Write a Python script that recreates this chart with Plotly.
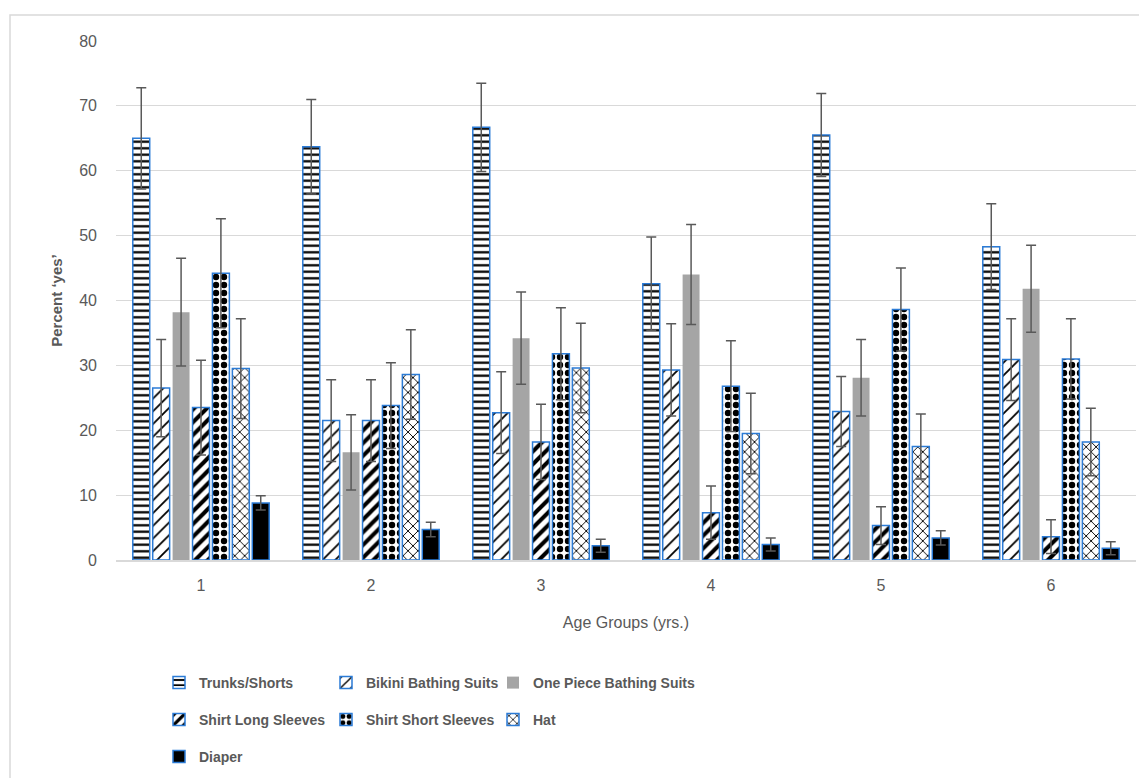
import plotly.graph_objects as go

groups = ["1", "2", "3", "4", "5", "6"]

series_names = ["Trunks/Shorts", "Bikini Bathing Suits", "One Piece Bathing Suits",
                "Shirt Long Sleeves", "Shirt Short Sleeves", "Hat", "Diaper"]

trunks = [65.0, 63.7, 66.7, 42.6, 65.5, 48.3]
trunks_err = [7.8, 7.3, 6.8, 7.2, 6.4, 6.6]
bikini = [26.5, 21.5, 22.7, 29.3, 22.9, 30.9]
bikini_err = [7.5, 6.3, 6.3, 7.1, 5.4, 6.3]
one_piece = [38.2, 16.6, 34.2, 44.0, 28.1, 41.8]
one_piece_err = [8.3, 5.8, 7.1, 7.7, 5.9, 6.7]
long_sleeves = [23.5, 21.5, 18.2, 7.3, 5.3, 3.6]
long_sleeves_err = [7.3, 6.3, 5.8, 4.1, 2.9, 2.6]
short_sleeves = [44.2, 23.8, 31.8, 26.8, 38.6, 31.0]
short_sleeves_err = [8.4, 6.6, 7.1, 7.0, 6.4, 6.2]
hat = [29.5, 28.6, 29.6, 19.5, 17.5, 18.2]
hat_err = [7.7, 6.9, 6.9, 6.2, 5.0, 5.2]
diaper = [8.8, 4.7, 2.2, 2.4, 3.4, 1.8]
diaper_err = [1.1, 1.1, 1.0, 1.0, 1.1, 1.0]

values = [trunks, bikini, one_piece, long_sleeves, short_sleeves, hat, diaper]
errors = [trunks_err, bikini_err, one_piece_err, long_sleeves_err,
          short_sleeves_err, hat_err, diaper_err]

BLUE = "#2b7bd6"
GRAY_TXT = "#595959"


def pat(shape, size, solidity):
    return dict(shape=shape, fgcolor="black", bgcolor="white", fgopacity=1,
                size=size, solidity=solidity, fillmode="replace")


styles = [
    dict(color="white", pattern=pat("-", 6.5, 0.35), line=BLUE),
    dict(color="white", pattern=pat("/", 9, 0.2), line=BLUE),
    dict(color="#a5a5a5", pattern=None, line=None),
    dict(color="white", pattern=pat("/", 9, 0.45), line=BLUE),
    dict(color="white", pattern=pat(".", 8, 0.5), line=BLUE),
    dict(color="white", pattern=pat("x", 7, 0.25), line=BLUE),
    dict(color="black", pattern=None, line=BLUE),
]

legend_of = ["legend", "legend", "legend", "legend2", "legend2", "legend2", "legend3"]
legend_w = [122, 122, 220, 122, 122, 220, 122]

fig = go.Figure()
for name, vals, errs, st, lg, lw in zip(series_names, values, errors, styles, legend_of, legend_w):
    marker = dict(color=st["color"])
    if st["pattern"] is not None:
        marker["pattern"] = st["pattern"]
    if st["line"] is not None:
        marker["line"] = dict(color=st["line"], width=1.5)
    else:
        marker["line"] = dict(width=0)
    fig.add_trace(go.Bar(
        x=groups, y=vals, name=name, marker=marker, legend=lg, legendwidth=lw,
        error_y=dict(type="data", array=errs, visible=True, color=GRAY_TXT,
                     thickness=1.5, width=5),
    ))

# page is drawn with an 8px body margin
OFF = 8
W, H = 1147 - OFF, 778 - OFF
L, R, T, B = 116 - OFF, 11, 41 - OFF, 218
pw, ph = W - L - R, H - T - B


def px_x(p):
    return (p - OFF - L) / pw


def px_y(p):
    return (H - B - (p - OFF)) / ph


leg_common = dict(orientation="h", xanchor="left", yanchor="middle",
                  entrywidth=122, entrywidthmode="pixels", itemwidth=30,
                  font=dict(family="Liberation Sans", size=14, color=GRAY_TXT, weight="bold"),
                  bgcolor="rgba(0,0,0,0)")

fig.update_layout(
    width=W, height=H,
    margin=dict(l=L, r=R, t=T, b=B, autoexpand=False),
    paper_bgcolor="white", plot_bgcolor="white",
    barmode="group", bargap=0.18, bargroupgap=0.15,
    font=dict(family="Liberation Sans", color=GRAY_TXT),
    legend=dict(x=px_x(159), y=px_y(683), **leg_common),
    legend2=dict(x=px_x(159), y=px_y(720), **leg_common),
    legend3=dict(x=px_x(159), y=px_y(757), **leg_common),
    xaxis=dict(
        type="category", showgrid=False, showline=True, linecolor="#d9d9d9", linewidth=1.5,
        ticks="", ticklabelstandoff=10,
        tickfont=dict(family="Liberation Sans", size=16, color=GRAY_TXT),
        title=dict(text="Age Groups (yrs.)", font=dict(family="Liberation Sans", size=16, color=GRAY_TXT), standoff=24),
    ),
    yaxis=dict(
        range=[0, 80], dtick=10, showgrid=True, gridcolor="#d9d9d9", gridwidth=1,
        zeroline=False, showline=False, ticks="",
        tickfont=dict(family="Liberation Sans", size=16, color=GRAY_TXT),
        ticklabelstandoff=18,
        title=dict(text="Percent \u2018yes\u2019", font=dict(family="Liberation Sans", size=15, color=GRAY_TXT, weight="bold"), standoff=12),
    ),
    shapes=[dict(type="rect", xref="paper", yref="paper",
                 x0=px_x(10), x1=px_x(1170), y0=px_y(800), y1=px_y(15),
                 line=dict(color="#d9d9d9", width=1.5), fillcolor="rgba(0,0,0,0)", layer="below")],
)

fig.write_html("out.html")
